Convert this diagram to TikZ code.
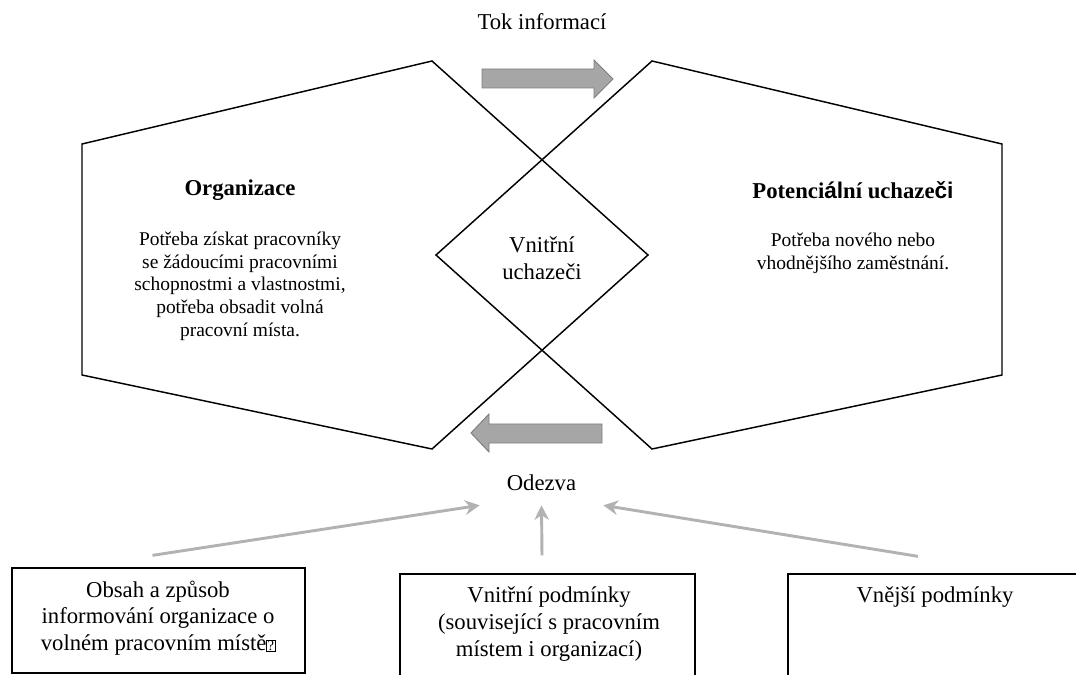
\documentclass[tikz,border=0pt]{standalone}
\usepackage{fontspec}
\setmainfont{Liberation Serif}
\setsansfont{Liberation Sans}
\usetikzlibrary{arrows.meta,calc}
\newcommand{\pxu}{0.617pt}
\newcommand{\misschar}{{\fboxsep=0.3pt\fboxrule=0.4pt\fbox{\fontsize{9}{9}\selectfont ?}}}
\definecolor{flowfill}{RGB}{166,166,166}
\definecolor{flowedge}{RGB}{127,127,127}
\definecolor{respgray}{RGB}{178,178,178}

\begin{document}
\begin{tikzpicture}
  [x=\pxu, y=-\pxu,
   outline/.style = {draw, line width=0.9pt, line join=miter},
   flowarrow/.style = {fill=flowfill, draw=flowedge, line width=0.6pt},
   respline/.style = {draw=respgray, line width=1.8pt, -{Stealth[length=9pt,width=9pt]}},
   boxframe/.style = {draw, line width=0.8pt, inner sep=0pt},
   bigtext/.style = {font=\fontsize{14}{16.5}\selectfont, align=center, inner sep=0pt},
   headtext/.style = {font=\fontsize{14}{16.5}\selectfont\bfseries, inner sep=0pt},
   bodytext/.style = {font=\fontsize{12}{14}\selectfont, align=center, inner sep=0pt}]
  \useasboundingbox (0,0) rectangle (1076,675);
  \clip (0,0) rectangle (1076,675);
  % the two sides
  \draw[outline] (82,144) -- (432,61) -- (648,255) -- (432,449) -- (82,375) -- cycle;
  \draw[outline] (1002,144) -- (652,61) -- (436,255) -- (652,449) -- (1002,375) -- cycle;
  % flow of information
  \draw[flowarrow] (482,69) -- (594,69) -- (594,60) -- (613,79) -- (594,98) -- (594,88) -- (482,88) -- cycle;
  \draw[flowarrow] (602,424) -- (489,424) -- (489,414) -- (471,433) -- (489,452) -- (489,443) -- (602,443) -- cycle;
  \node[bigtext] (tok) at (542,22) {Tok informací};
  \node[headtext] (org) at (240,190) {Organizace};
  \node[bodytext] (orgneed) at (240,286) {Potřeba získat pracovníky\\se žádoucími pracovními\\schopnostmi a vlastnostmi,\\potřeba obsadit volná\\pracovní místa.};
  \node[headtext] (cand) at (853,190) {Potenci{\sffamily ál}ní uchaze{\sffamily či}};
  \node[bodytext] (candneed) at (853,253) {Potřeba nového nebo\\vhodnějšího zaměstnání.};
  \node[bigtext] (inner) at (542,258) {Vnitřní\\uchazeči};
  \node[bigtext, minimum width=123*\pxu, minimum height=44*\pxu] (odezva) at (541.5,483) {Odezva};
  % conditions
  \node[boxframe, minimum width=293*\pxu, minimum height=105*\pxu] (lbox) at (158.5,620.5) {};
  \node[boxframe, minimum width=295*\pxu, minimum height=130*\pxu] (mbox) at (547.5,639) {};
  \node[boxframe, minimum width=302*\pxu, minimum height=130*\pxu] (rbox) at (939,639) {};
  \node[bigtext] (ltext) at (158,618) {Obsah a způsob\\informování organizace o\\volném pracovním místě\misschar};
  \node[bigtext] (mtext) at (549,624) {Vnitřní podmínky\\(související s pracovním\\místem i organizací)};
  \node[bigtext] (rtext) at (935,597) {Vnější podmínky};
  \draw[respline] ($(lbox.north)+(-6,-12)$) -- (odezva.south west);
  \draw[respline] ($(mbox.north)+(-5.5,-18)$) -- (odezva.south);
  \draw[respline] ($(rbox.north)+(-21,-17)$) -- (odezva.south east);
\end{tikzpicture}
\end{document}
